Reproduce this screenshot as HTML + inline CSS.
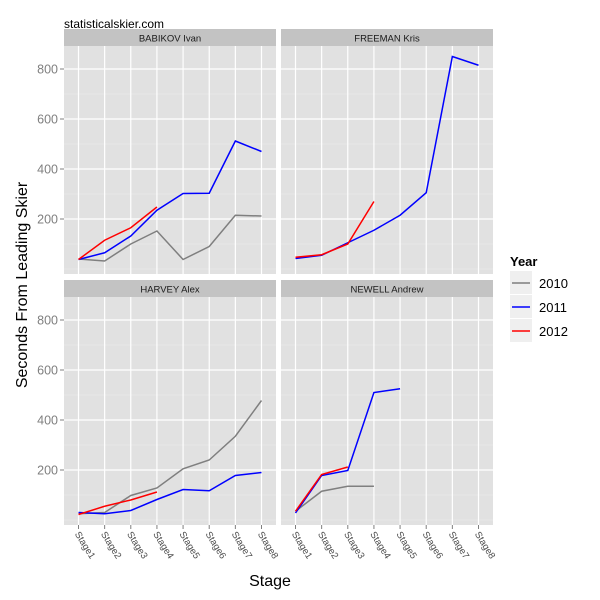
<!DOCTYPE html>
<html><head><meta charset="utf-8"><style>
body{margin:0;background:#fff}
svg{display:block;font-family:"Liberation Sans",Arial,sans-serif}
</style></head><body>
<svg id="chart" width="600" height="600" viewBox="0 0 600 600">
<text x="64" y="28" font-size="12" fill="#000">statisticalskier.com</text>
<g id="panels"></g>
<text x="270" y="586" font-size="16" text-anchor="middle">Stage</text>
<text transform="translate(27,285) rotate(-90)" font-size="16" text-anchor="middle">Seconds From Leading Skier</text>
<g>
<text x="510" y="266" font-size="13" font-weight="bold">Year</text>
<rect x="510" y="271" width="22" height="23" fill="#efefef"/>
<line x1="512" x2="530" y1="283" y2="283" stroke="#7f7f7f" stroke-width="1.5"/>
<text x="539" y="288" font-size="13">2010</text>
<rect x="510" y="295" width="22" height="23" fill="#efefef"/>
<line x1="512" x2="530" y1="307" y2="307" stroke="#0000ff" stroke-width="1.5"/>
<text x="539" y="312" font-size="13">2011</text>
<rect x="510" y="319" width="22" height="23" fill="#efefef"/>
<line x1="512" x2="530" y1="331" y2="331" stroke="#ff0000" stroke-width="1.5"/>
<text x="539" y="336" font-size="13">2012</text>
</g>
</svg>
<script>
const stages = ["Stage1","Stage2","Stage3","Stage4","Stage5","Stage6","Stage7","Stage8"];
const yTicks = [200,400,600,800];
const skiers = ["BABIKOV Ivan","FREEMAN Kris","HARVEY Alex","NEWELL Andrew"];
const babikov2010 = [40,32,100,152,38,90,215,212];
const babikov2011 = [38,65,132,235,302,303,512,470];
const babikov2012 = [38,115,165,248];
const freeman2011 = [42,55,105,155,215,305,850,815];
const freeman2012 = [47,57,100,270];
const harvey2010 = [25,30,98,128,205,240,335,478];
const harvey2011 = [30,25,38,82,122,117,178,190];
const harvey2012 = [22,55,80,112];
const newell2010 = [35,115,135,135];
const newell2011 = [28,178,198,510,525];
const newell2012 = [35,182,212];
const seriesBySkier = [
  [["2010",babikov2010],["2011",babikov2011],["2012",babikov2012]],
  [["2011",freeman2011],["2012",freeman2012]],
  [["2010",harvey2010],["2011",harvey2011],["2012",harvey2012]],
  [["2010",newell2010],["2011",newell2011],["2012",newell2012]]
];
const colors = {"2010":"#7f7f7f","2011":"#0000ff","2012":"#ff0000"};
const NS="http://www.w3.org/2000/svg";
const root=document.getElementById('panels');
function mk(tag,attrs,parent){const e=document.createElementNS(NS,tag);for(const k in attrs)e.setAttribute(k,attrs[k]);parent.appendChild(e);return e;}
const panelX=[64,281], stripY=[29,280];
skiers.forEach((name,i)=>{
  const px=panelX[i%2], sy=stripY[Math.floor(i/2)], pw=212, top=sy+17, bot=top+228;
  const xs=k=>px+14.5+k*(pw-29)/7;
  const ys=v=>top+223-v*0.25;
  const g=mk('g',{},root);
  
  
  const st=mk('rect',{x:px,y:sy,width:pw,height:17,fill:'#c3c3c3'},g);
  
  
  const stt=mk('text',{x:px+pw/2,y:sy+12.5,'font-size':9.5,'text-anchor':'middle',fill:'#1a1a1a'},g);
  stt.textContent=name;
  
  
  mk('rect',{x:px,y:top,width:pw,height:bot-top,fill:'#e1e1e1'},g);
  [100,300,500,700,0].forEach(v=>mk('line',{x1:px,x2:px+pw,y1:ys(v),y2:ys(v),stroke:'#ededed','stroke-width':0.6},g));
  yTicks.forEach(v=>mk('line',{x1:px,x2:px+pw,y1:ys(v),y2:ys(v),stroke:'#fff','stroke-width':1.2},g));
  stages.forEach((s,k)=>mk('line',{x1:xs(k),x2:xs(k),y1:top,y2:bot,stroke:'#fff','stroke-width':1.2},g));
  if(i%2===0){yTicks.forEach(v=>{
    mk('line',{x1:px-4,x2:px,y1:ys(v),y2:ys(v),stroke:'#7f7f7f'},g);
    const t=mk('text',{x:px-6,y:ys(v)+4.5,'font-size':12.5,'text-anchor':'end',fill:'#7f7f7f'},g);
    t.textContent=v;
    
    
  });}
  if(i>=2){stages.forEach((s,k)=>{
    mk('line',{x1:xs(k),x2:xs(k),y1:bot,y2:bot+4,stroke:'#7f7f7f'},g);
    const t=mk('text',{transform:`translate(${xs(k)-4},${bot+9}) rotate(58)`,'font-size':9.5,fill:'#4d4d4d'},g);
    t.textContent=s;
    
    
  });}
  seriesBySkier[i].forEach(([yr,vals])=>{
    const p=mk('polyline',{points:vals.map((v,k)=>xs(k)+','+ys(v)).join(' '),fill:'none',stroke:colors[yr],'stroke-width':1.5},g);
    
    
  });
});
</script>
</body></html>
